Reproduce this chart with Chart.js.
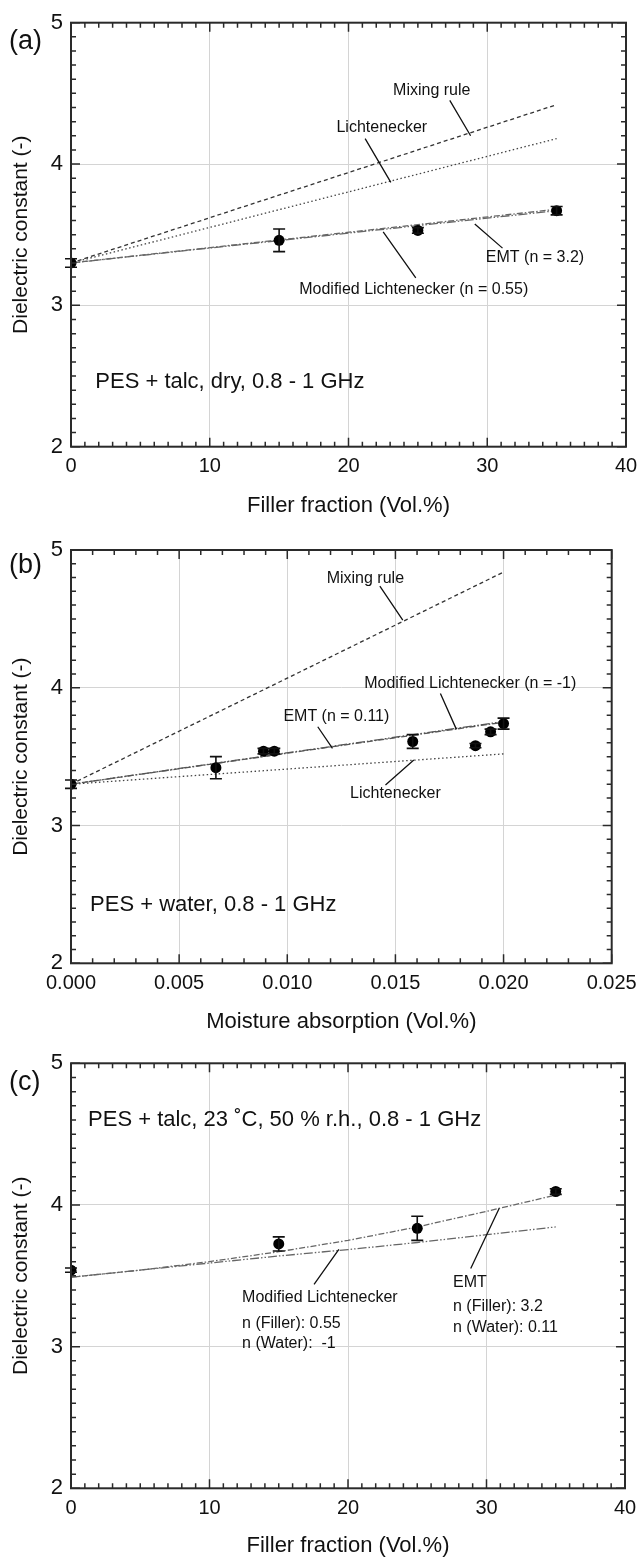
<!DOCTYPE html>
<html>
<head>
<meta charset="utf-8">
<script src="https://cdn.jsdelivr.net/npm/chart.js@4.4.1/dist/chart.umd.min.js"></script>
<style>
  html, body { margin: 0; padding: 0; background: #fff; }
  #wrap { position: relative; width: 640px; height: 1559px; overflow: hidden; }
  canvas { position: absolute; left: 0; }
</style>
</head>
<body>
<div id="wrap">
  <canvas id="chartA" width="640" height="520" style="top:0"></canvas>
  <canvas id="chartB" width="640" height="520" style="top:520px"></canvas>
  <canvas id="chartC" width="640" height="519" style="top:1040px"></canvas>
</div>
<script>
// ### DATA (a): PES + talc, dry ###
const fillerA = [0, 15, 25, 35];
const epsA = [3.30, 3.46, 3.53, 3.67];
const errA = [0.03, 0.08, 0.02, 0.03];
const modelXA = [0, 35];
const mixingA = [3.30, 4.42];
const lichtA = [3.30, 4.18];
const emtA = [3.30, 3.68];
const modLichtA = [3.30, 3.67];

// ### DATA (b): PES + water ###
const moistureB = [0, 0.0067, 0.0089, 0.0094, 0.0158, 0.0187, 0.0194, 0.0200];
const epsB = [3.30, 3.42, 3.54, 3.54, 3.61, 3.58, 3.68, 3.74];
const errB = [0.03, 0.08, 0.02, 0.02, 0.05, 0.015, 0.02, 0.04];
const modelXB = [0, 0.0200];
const mixingB = [3.30, 4.84];
const lichtB = [3.30, 3.52];
const emtB = [3.30, 3.75];
const modLichtB = [3.30, 3.755];

// ### DATA (c): PES + talc, conditioned ###
const fillerC = [0, 15, 25, 35];
const epsC = [3.54, 3.725, 3.835, 4.095];
const errC = [0.015, 0.05, 0.085, 0.02];
const modelXC = [0, 5, 10, 15, 20, 25, 30, 35];
const emtC = [3.49, 3.54, 3.60, 3.67, 3.75, 3.845, 3.955, 4.07];
const modLichtC = [3.49, 3.54, 3.59, 3.64, 3.685, 3.735, 3.79, 3.845];

// ### TICKS ###
const yTicks = [2, 3, 4, 5];
const fillerTicks = [0, 10, 20, 30, 40];
const moistureTicks = [0, 0.005, 0.010, 0.015, 0.020, 0.025];

const FONT = '"Liberation Sans", Arial, Helvetica, sans-serif';
Chart.defaults.font.family = FONT;
Chart.defaults.color = '#111';

function pts(xs, ys) {
    return xs.map((x, i) => ({ x: x, y: ys[i] }));
}

// measured points with error bars (drawn by the plugin)
function measured(xs, ys, errs) {
    return {
        label: 'Measured',
        data: pts(xs, ys),
        errors: errs,
        showLine: false,
        pointRadius: 5.5,
        pointBackgroundColor: '#000',
        pointBorderColor: '#000',
        pointBorderWidth: 0
    };
}

function modelLine(label, xs, ys, dash, color) {
    return {
        label: label,
        data: pts(xs, ys),
        showLine: true,
        pointRadius: 0,
        borderColor: color,
        borderWidth: 1.3,
        borderDash: dash,
        fill: false,
        tension: 0
    };
}

const DASH_MIX = [4, 3];
const DASH_LICHT = [1.5, 2.5];
const DASH_EMT = [6, 2, 1.5, 2];
const DASH_MODL = [9, 2, 1.5, 2, 1.5, 2];

// ### FRAME, MINOR TICKS, ERROR BARS, ANNOTATIONS ###
const decorPlugin = {
    id: 'panelDecor',
    afterDatasetsDraw(chart) {
        const ctx = chart.ctx;
        const ys = chart.scales.y;
        chart.data.datasets.forEach((ds, i) => {
            if (!ds.errors) return;
            const meta = chart.getDatasetMeta(i);
            ctx.save();
            ctx.strokeStyle = '#111';
            ctx.lineWidth = 1.6;
            ctx.beginPath();
            meta.data.forEach((pt, j) => {
                const v = ds.data[j].y;
                const yTop = ys.getPixelForValue(v + ds.errors[j]);
                const yBot = ys.getPixelForValue(v - ds.errors[j]);
                ctx.moveTo(pt.x, yTop); ctx.lineTo(pt.x, yBot);
                ctx.moveTo(pt.x - 6, yTop); ctx.lineTo(pt.x + 6, yTop);
                ctx.moveTo(pt.x - 6, yBot); ctx.lineTo(pt.x + 6, yBot);
            });
            ctx.stroke();
            ctx.restore();
        });
    },
    afterDraw(chart, args, opts) {
        const ctx = chart.ctx;
        const a = chart.chartArea;
        const xs = chart.scales.x, ys = chart.scales.y;
        ctx.save();

        // inward ticks on all four sides
        ctx.strokeStyle = '#2a2a2a';
        ctx.lineWidth = 1.5;
        ctx.beginPath();
        const nx = Math.round((xs.max - xs.min) / opts.xMinor);
        for (let k = 0; k <= nx; k++) {
            const px = xs.getPixelForValue(xs.min + k * opts.xMinor);
            const len = k % opts.xMajorEvery === 0 ? 9 : 5;
            ctx.moveTo(px, a.bottom); ctx.lineTo(px, a.bottom - len);
            ctx.moveTo(px, a.top); ctx.lineTo(px, a.top + len);
        }
        const ny = Math.round((ys.max - ys.min) / 0.1);
        for (let k = 0; k <= ny; k++) {
            const py = ys.getPixelForValue(ys.min + k * 0.1);
            const len = k % 10 === 0 ? 9 : 5;
            ctx.moveTo(a.left, py); ctx.lineTo(a.left + len, py);
            ctx.moveTo(a.right, py); ctx.lineTo(a.right - len, py);
        }
        ctx.stroke();

        // frame
        ctx.lineWidth = 2;
        ctx.strokeRect(a.left, a.top, a.right - a.left, a.bottom - a.top);

        // leader lines
        ctx.strokeStyle = '#111';
        ctx.lineWidth = 1.3;
        ctx.beginPath();
        (opts.leaders || []).forEach(l => {
            ctx.moveTo(xs.getPixelForValue(l[0]), ys.getPixelForValue(l[1]));
            ctx.lineTo(xs.getPixelForValue(l[2]), ys.getPixelForValue(l[3]));
        });
        ctx.stroke();

        // labels
        ctx.fillStyle = '#111';
        ctx.textBaseline = 'middle';
        (opts.labels || []).forEach(t => {
            ctx.font = (t.size || 16) + 'px ' + FONT;
            ctx.textAlign = t.align || 'left';
            ctx.fillText(t.text, xs.getPixelForValue(t.x), ys.getPixelForValue(t.y));
        });

        // panel tag
        ctx.font = '27px ' + FONT;
        ctx.textAlign = 'left';
        ctx.fillText(opts.tag, 9, opts.tagY);
        ctx.restore();
    }
};

function makeChart(id, cfg) {
    return new Chart(document.getElementById(id), {
        type: 'scatter',
        data: { datasets: cfg.datasets },
        plugins: [decorPlugin],
        options: {
            responsive: false,
            animation: false,
            layout: { padding: { left: 0, right: cfg.padRight, top: cfg.padTop, bottom: 0 } },
            plugins: {
                legend: { display: false },
                tooltip: { enabled: false },
                panelDecor: cfg.decor
            },
            scales: {
                x: {
                    type: 'linear',
                    min: cfg.xMin,
                    max: cfg.xMax,
                    afterBuildTicks: s => { s.ticks = cfg.xTicks.map(v => ({ value: v })); },
                    afterFit: s => { s.height = cfg.xAxisHeight; s.paddingLeft = 0; s.paddingRight = 0; },
                    ticks: {
                        padding: 8,
                        autoSkip: false,
                        maxRotation: 0,
                        font: { size: 20 },
                        color: '#111',
                        callback: cfg.xFormat
                    },
                    grid: { color: '#d4d4d4', lineWidth: 1, drawTicks: false },
                    border: { display: false },
                    title: {
                        display: true,
                        text: cfg.xTitle,
                        font: { size: 22 },
                        color: '#111',
                        padding: { top: 0, bottom: cfg.xTitlePad }
                    }
                },
                y: {
                    type: 'linear',
                    min: 2,
                    max: 5,
                    afterBuildTicks: s => { s.ticks = yTicks.map(v => ({ value: v })); },
                    afterFit: s => { s.width = 71; s.paddingTop = 0; s.paddingBottom = 0; },
                    ticks: { padding: 8, font: { size: 22 }, color: '#111' },
                    grid: { color: '#d4d4d4', lineWidth: 1, drawTicks: false },
                    border: { display: false },
                    title: {
                        display: true,
                        text: 'Dielectric constant (-)',
                        font: { size: 21 },
                        color: '#111',
                        padding: { top: 9, bottom: 0 }
                    }
                }
            }
        }
    });
}

// ### PANEL (a) ###
makeChart('chartA', {
    padTop: 22.7, padRight: 14, xAxisHeight: 73.3, xTitlePad: 1,
    xMin: 0, xMax: 40, xTicks: fillerTicks, xFormat: v => String(v),
    xTitle: 'Filler fraction (Vol.%)',
    datasets: [
        measured(fillerA, epsA, errA),
        modelLine('EMT (n = 3.2)', modelXA, emtA, DASH_EMT, '#666'),
        modelLine('Modified Lichtenecker (n = 0.55)', modelXA, modLichtA, DASH_MODL, '#666'),
        modelLine('Lichtenecker', modelXA, lichtA, DASH_LICHT, '#444'),
        modelLine('Mixing rule', modelXA, mixingA, DASH_MIX, '#333')
    ],
    decor: {
        tag: '(a)', tagY: 42, xMinor: 1, xMajorEvery: 10,
        labels: [
            { text: 'Mixing rule', x: 26.0, y: 4.52, align: 'center' },
            { text: 'Lichtenecker', x: 22.4, y: 4.26, align: 'center' },
            { text: 'EMT (n = 3.2)', x: 29.9, y: 3.335, align: 'left' },
            { text: 'Modified Lichtenecker (n = 0.55)', x: 24.7, y: 3.115, align: 'center' },
            { text: 'PES + talc, dry, 0.8 - 1 GHz', x: 1.75, y: 2.46, align: 'left', size: 22 }
        ],
        leaders: [
            [27.3, 4.45, 28.8, 4.20],
            [21.2, 4.18, 23.05, 3.87],
            [29.1, 3.575, 31.1, 3.405],
            [22.5, 3.52, 24.85, 3.195]
        ]
    }
});

// ### PANEL (b) ###
makeChart('chartB', {
    padTop: 30, padRight: 28.3, xAxisHeight: 76.7, xTitlePad: 5,
    xMin: 0, xMax: 0.025, xTicks: moistureTicks, xFormat: v => v.toFixed(3),
    xTitle: 'Moisture absorption (Vol.%)',
    datasets: [
        measured(moistureB, epsB, errB),
        modelLine('EMT (n = 0.11)', modelXB, emtB, DASH_EMT, '#555'),
        modelLine('Modified Lichtenecker (n = -1)', modelXB, modLichtB, DASH_MODL, '#555'),
        modelLine('Lichtenecker', modelXB, lichtB, DASH_LICHT, '#444'),
        modelLine('Mixing rule', modelXB, mixingB, DASH_MIX, '#333')
    ],
    decor: {
        tag: '(b)', tagY: 46, xMinor: 0.001, xMajorEvery: 5,
        labels: [
            { text: 'Mixing rule', x: 0.01361, y: 4.796, align: 'center' },
            { text: 'Modified Lichtenecker (n = -1)', x: 0.01846, y: 4.027, align: 'center' },
            { text: 'EMT (n = 0.11)', x: 0.00982, y: 3.79, align: 'left' },
            { text: 'Lichtenecker', x: 0.0150, y: 3.234, align: 'center' },
            { text: 'PES + water, 0.8 - 1 GHz', x: 0.00088, y: 2.423, align: 'left', size: 22 }
        ],
        leaders: [
            [0.01428, 4.738, 0.01534, 4.491],
            [0.01708, 3.959, 0.01782, 3.698],
            [0.01141, 3.717, 0.01209, 3.56],
            [0.01454, 3.294, 0.01585, 3.475]
        ]
    }
});

// ### PANEL (c) ###
makeChart('chartC', {
    padTop: 23.3, padRight: 15, xAxisHeight: 70.7, xTitlePad: 0,
    xMin: 0, xMax: 40, xTicks: fillerTicks, xFormat: v => String(v),
    xTitle: 'Filler fraction (Vol.%)',
    datasets: [
        measured(fillerC, epsC, errC),
        modelLine('EMT', modelXC, emtC, DASH_EMT, '#666'),
        modelLine('Modified Lichtenecker', modelXC, modLichtC, DASH_MODL, '#666')
    ],
    decor: {
        tag: '(c)', tagY: 43, xMinor: 1, xMajorEvery: 10,
        labels: [
            { text: 'PES + talc, 23 \u02DAC, 50 % r.h., 0.8 - 1 GHz', x: 1.23, y: 4.6, align: 'left', size: 22 },
            { text: 'Modified Lichtenecker', x: 12.35, y: 3.344, align: 'left' },
            { text: 'n (Filler): 0.55', x: 12.35, y: 3.163, align: 'left' },
            { text: 'n (Water):  -1', x: 12.35, y: 3.018, align: 'left' },
            { text: 'EMT', x: 27.58, y: 3.45, align: 'left' },
            { text: 'n (Filler): 3.2', x: 27.58, y: 3.285, align: 'left' },
            { text: 'n (Water): 0.11', x: 27.58, y: 3.137, align: 'left' }
        ],
        leaders: [
            [19.34, 3.687, 17.55, 3.439],
            [30.92, 3.977, 28.86, 3.552]
        ]
    }
});
</script>
</body>
</html>
